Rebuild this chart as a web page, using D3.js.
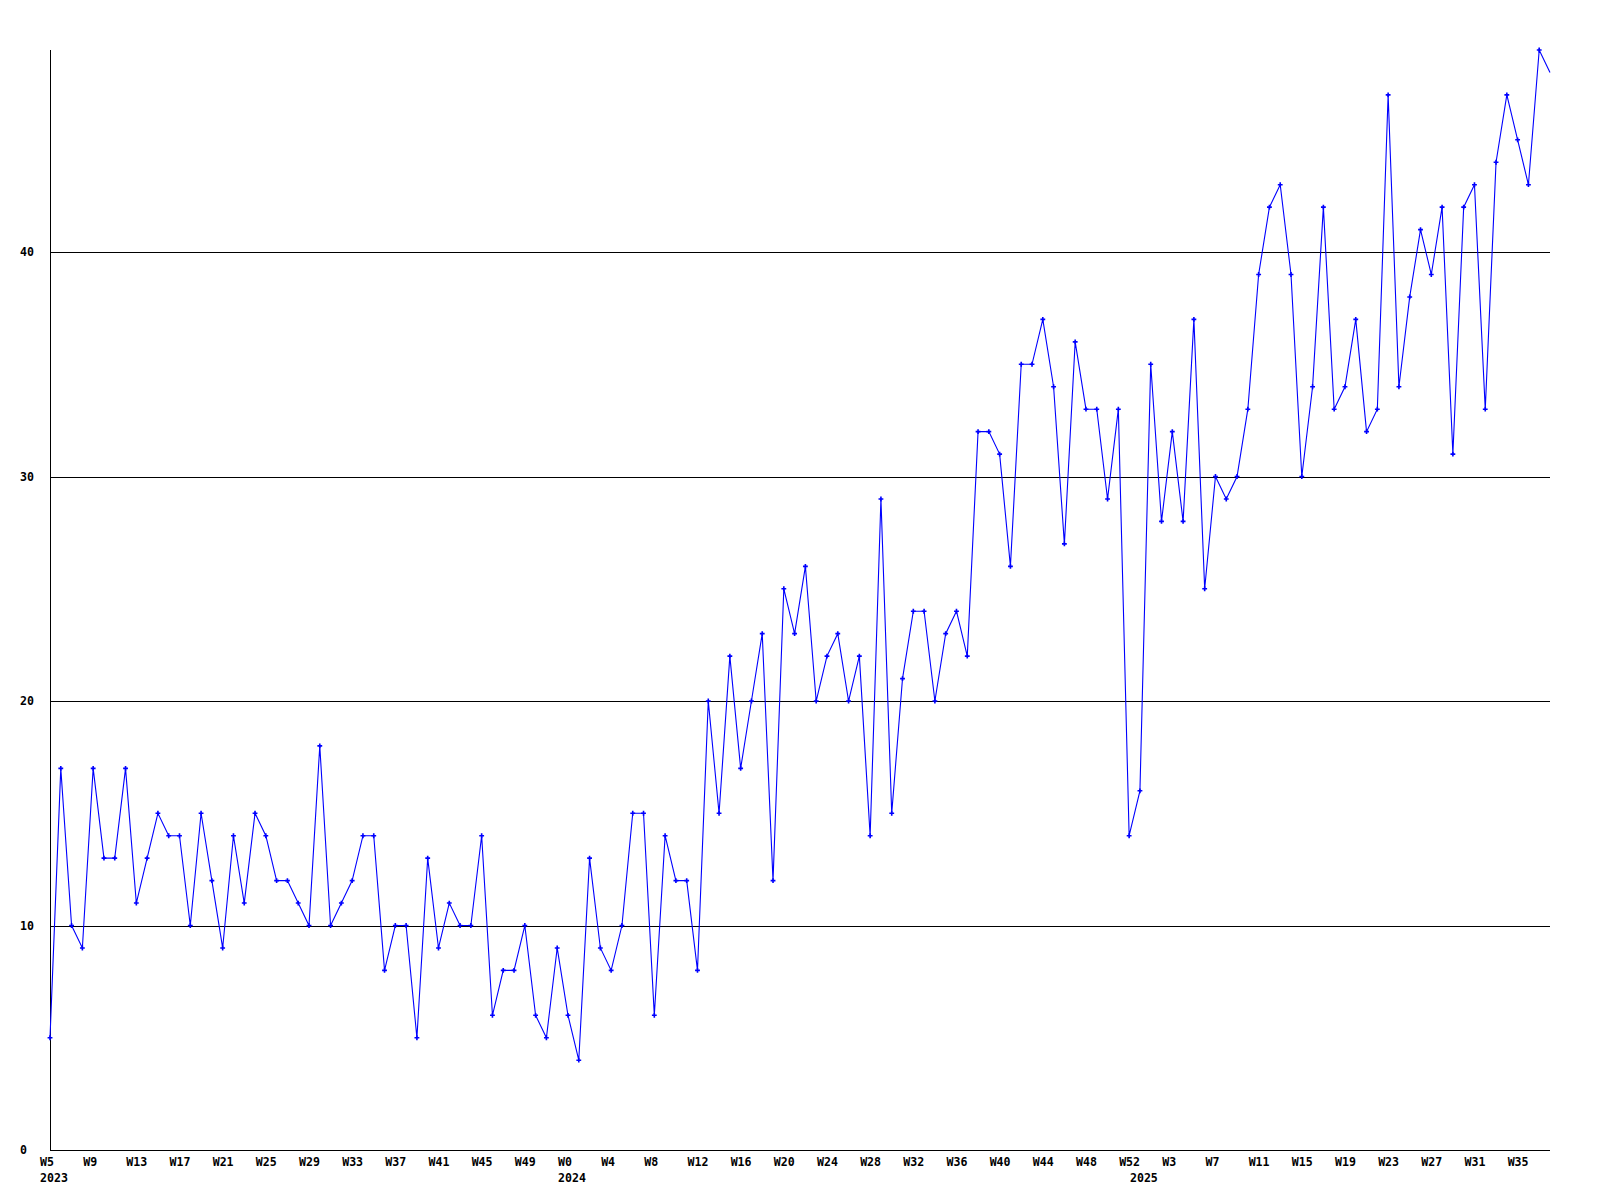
<!DOCTYPE html>
<html>
<head>
<meta charset="utf-8">
<script src="https://cdn.jsdelivr.net/npm/d3@7"></script>
<style>
  html, body { margin: 0; padding: 0; background: #ffffff; }
  svg { display: block; }
  text { font-family: "DejaVu Sans Mono", "Liberation Mono", monospace; font-weight: bold; font-size: 11.6px; fill: #000; }
</style>
</head>
<body>
<svg id="chart" width="1600" height="1200"></svg>
<script>
// ---- data ----
const years = [2023, 2024, 2025];
const firstWeek = [5, 0, 0];
const lastWeek = [52, 52, 38];

const values = [
  5, 17, 10, 9, 17, 13, 13, 17, 11, 13,
  15, 14, 14, 10, 15, 12, 9, 14, 11, 15,
  14, 12, 12, 11, 10, 18, 10, 11, 12, 14,
  14, 8, 10, 10, 5, 13, 9, 11, 10, 10,
  14, 6, 8, 8, 10, 6, 5, 9, 6, 4,
  13, 9, 8, 10, 15, 15, 6, 14, 12, 12,
  8, 20, 15, 22, 17, 20, 23, 12, 25, 23,
  26, 20, 22, 23, 20, 22, 14, 29, 15, 21,
  24, 24, 20, 23, 24, 22, 32, 32, 31, 26,
  35, 35, 37, 34, 27, 36, 33, 33, 29, 33,
  14, 16, 35, 28, 32, 28, 37, 25, 30, 29,
  30, 33, 39, 42, 43, 39, 30, 34, 42, 33,
  34, 37, 32, 33, 47, 34, 38, 41, 39, 42,
  31, 42, 43, 33, 44, 47, 45, 43, 49, 48
];

const yTicks = [0, 10, 20, 30, 40];
const tickEvery = 4;

(function () {
  // categories (year / week) built from the week ranges
  const categories = [];
  years.forEach((yr, i) => {
    for (let w = firstWeek[i]; w <= lastWeek[i]; w++) categories.push({ key: yr + "-W" + w, year: yr, week: w });
  });
  const keys = categories.map(c => c.key);

  // ---- layout ----
  const svg = d3.select("#chart");
  const mLeft = 50, mRight = 1550, mTop = 50, mBottom = 1150;

  const x = d3.scalePoint().domain(keys).range([mLeft, mRight]).padding(0);
  const y = d3.scaleLinear().domain([0, d3.max(values)]).range([mBottom, mTop]);

  const snap = v => Math.round(v) + 0.5;

  // grid lines
  svg.append("g").selectAll("line")
    .data(yTicks.filter(t => t > 0))
    .join("line")
    .attr("x1", mLeft).attr("x2", mRight)
    .attr("y1", d => snap(y(d))).attr("y2", d => snap(y(d)))
    .attr("stroke", "#000").attr("stroke-width", 1)
    .attr("shape-rendering", "crispEdges");

  // axis lines
  svg.append("line")
    .attr("x1", snap(mLeft)).attr("x2", snap(mLeft))
    .attr("y1", mTop).attr("y2", mBottom + 1)
    .attr("stroke", "#000").attr("shape-rendering", "crispEdges");
  svg.append("line")
    .attr("x1", mLeft).attr("x2", mRight)
    .attr("y1", snap(y(0))).attr("y2", snap(y(0)))
    .attr("stroke", "#000").attr("shape-rendering", "crispEdges");

  // y labels
  svg.append("g").selectAll("text")
    .data(yTicks)
    .join("text")
    .attr("x", 20)
    .attr("y", d => y(d) + 4)
    .text(d => d);

  // x labels (weeks)
  const tickCats = categories.filter((c, i) => i % tickEvery === 0);
  svg.append("g").selectAll("text")
    .data(tickCats)
    .join("text")
    .attr("x", d => x(d.key) - 10)
    .attr("y", 1166)
    .text(d => "W" + d.week);

  // year labels at first point of each year
  const yearCats = years.map(yr => categories.find(c => c.year === yr));
  svg.append("g").selectAll("text")
    .data(yearCats)
    .join("text")
    .attr("x", d => x(d.key) - 10)
    .attr("y", 1181.5)
    .text(d => d.year);

  // data line
  const pts = values.map((v, i) => ({ key: keys[i], v }));
  svg.append("path")
    .datum(pts)
    .attr("fill", "none")
    .attr("stroke", "#0000ff")
    .attr("stroke-width", 1.1)
    .attr("d", d3.line().x(d => x(d.key)).y(d => y(d.v)));

  // markers (last, partial point has none)
  svg.append("g").selectAll("path")
    .data(pts.slice(0, pts.length - 1))
    .join("path")
    .attr("transform", d => `translate(${x(d.key)},${y(d.v)})`)
    .attr("d", d3.symbol(d3.symbolCross, 13))
    .attr("fill", "#0000ff");
})();
</script>
</body>
</html>
